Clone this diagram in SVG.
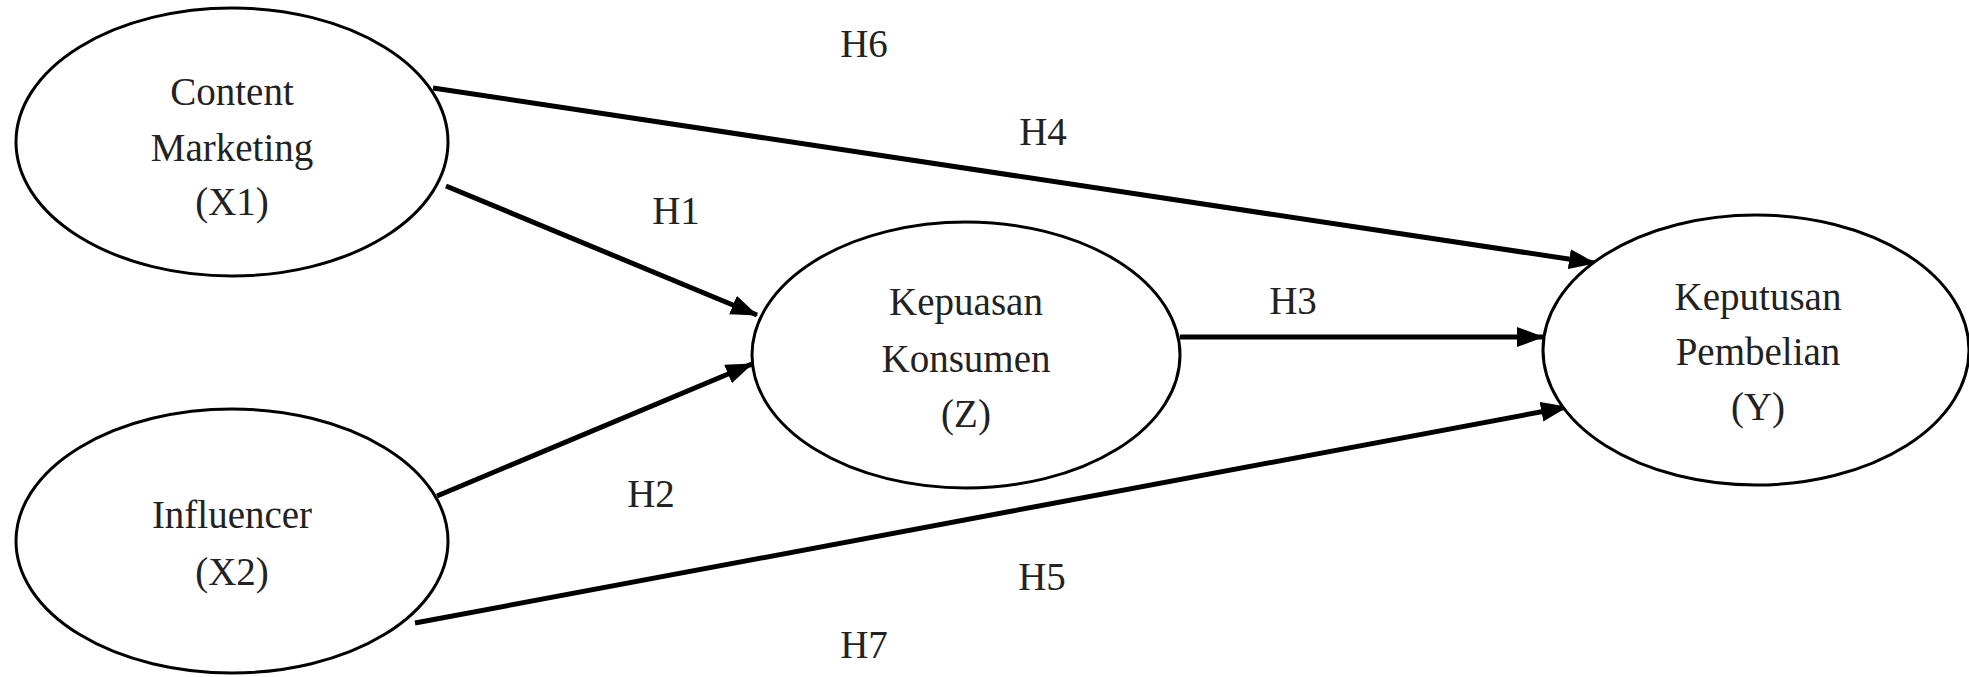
<svg xmlns="http://www.w3.org/2000/svg" width="1969" height="677" viewBox="0 0 1969 677">
<style>
.node ellipse{fill:#fff;stroke:#000;stroke-width:3}
text{font-family:"Liberation Serif","Times New Roman",serif;font-size:39px;fill:#222;text-anchor:middle}
.conn line{stroke:#000;stroke-width:5}
</style>
<defs>
<marker id="ah" markerUnits="userSpaceOnUse" markerWidth="28" markerHeight="22" refX="26" refY="10" orient="auto">
<path d="M0,0 L27,10 L0,20 Z" fill="#000"/>
</marker>
</defs>
<rect width="1969" height="677" fill="#fff"/>
<g id="connectors" class="conn">
<line x1="433" y1="88" x2="1595" y2="263" marker-end="url(#ah)"/>
<line x1="446" y1="186" x2="757" y2="315" marker-end="url(#ah)"/>
<line x1="437" y1="496" x2="752" y2="364" marker-end="url(#ah)"/>
<line x1="1180" y1="337" x2="1543" y2="337" marker-end="url(#ah)"/>
<line x1="415" y1="623" x2="1567" y2="407" marker-end="url(#ah)"/>
</g>
<g id="node-x1" class="node">
<ellipse cx="232" cy="142" rx="216" ry="134"/>
<text x="232" y="105">Content</text>
<text x="232" y="161">Marketing</text>
<text x="232" y="215">(X1)</text>
</g>
<g id="node-x2" class="node">
<ellipse cx="232" cy="541" rx="216" ry="132"/>
<text x="232" y="528">Influencer</text>
<text x="232" y="585">(X2)</text>
</g>
<g id="node-z" class="node">
<ellipse cx="966" cy="355" rx="214" ry="133"/>
<text x="966" y="315">Kepuasan</text>
<text x="966" y="372">Konsumen</text>
<text x="966" y="427">(Z)</text>
</g>
<g id="node-y" class="node">
<ellipse cx="1756" cy="350" rx="213" ry="135"/>
<text x="1758" y="310">Keputusan</text>
<text x="1758" y="365">Pembelian</text>
<text x="1758" y="420">(Y)</text>
</g>
<g id="labels">
<text x="864" y="57">H6</text>
<text x="1043" y="145">H4</text>
<text x="676" y="224">H1</text>
<text x="1293" y="314">H3</text>
<text x="651" y="507">H2</text>
<text x="1042" y="590">H5</text>
<text x="864" y="658">H7</text>
</g>
</svg>
